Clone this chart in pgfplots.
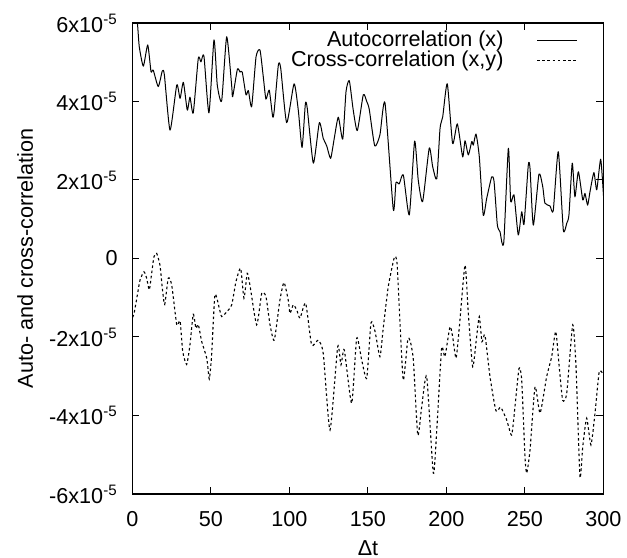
\documentclass[border=0pt]{standalone}
\usepackage{fontspec}
\setmainfont{Liberation Sans}
\usepackage{pgfplots}
\usepackage{pgfplotstable}
\pgfplotsset{compat=1.18}

% autocorrelation (x)
\pgfplotstableread{
t y
0 6.9e-5
3.1 6.0e-5
4.3 5.40e-5
6.9 4.90e-5
9.7 5.44e-5
11.8 4.76e-5
13.2 4.80e-5
16.4 4.38e-5
19.0 4.78e-5
20.3 4.68e-5
23.9 3.27e-5
28.2 4.42e-5
30.3 4.08e-5
32.4 4.49e-5
34.9 3.78e-5
36.6 4.11e-5
38.7 3.71e-5
41.9 5.10e-5
43.6 5.01e-5
45.5 5.16e-5
48.7 3.71e-5
51.9 5.57e-5
54.0 4.42e-5
56.8 4.02e-5
60.0 5.65e-5
63.2 4.39e-5
63.8 4.12e-5
66.8 4.82e-5
68.5 4.75e-5
69.9 4.75e-5
72.3 4.17e-5
73.8 4.28e-5
75.9 3.87e-5
78.7 5.14e-5
81.2 5.31e-5
83.3 4.63e-5
85.0 4.06e-5
87.1 4.29e-5
89.3 3.61e-5
90.3 3.78e-5
92.9 4.93e-5
94.4 4.85e-5
98.2 3.46e-5
102.9 4.45e-5
105.6 3.78e-5
108.0 2.83e-5
110.1 3.94e-5
111.3 3.83e-5
115.2 2.43e-5
119.0 3.46e-5
121.5 3.06e-5
123.7 2.87e-5
126.2 2.55e-5
128.5 3.06e-5
131.1 3.60e-5
133.9 3.04e-5
136.0 4.25e-5
138.1 4.53e-5
140.6 3.78e-5
143.2 3.26e-5
147.0 4.17e-5
149.2 4.00e-5
150.8 3.80e-5
154.3 2.87e-5
157.6 3.15e-5
160.8 3.97e-5
166.1 1.25e-5
167.8 1.93e-5
169.9 1.90e-5
172.5 2.13e-5
176.3 1.11e-5
179.7 2.99e-5
182.0 2.00e-5
184.8 1.45e-5
189.0 2.81e-5
191.2 2.34e-5
193.8 2.03e-5
195.9 3.32e-5
197.6 3.61e-5
200.5 4.45e-5
203.9 2.93e-5
206.9 3.43e-5
210.3 2.59e-5
211.8 3.00e-5
213.9 2.64e-5
216.1 2.98e-5
217.1 2.89e-5
218.8 3.17e-5
220.9 2.59e-5
223.4 1.11e-5
225.6 1.53e-5
228.8 2.08e-5
230.3 1.96e-5
232.4 0.85e-5
234.1 0.68e-5
235.4 0.39e-5
236.6 0.47e-5
239.4 2.81e-5
240.9 1.45e-5
243.0 1.62e-5
245.7 0.60e-5
247.9 1.19e-5
249.4 0.88e-5
252.1 2.38e-5
253.2 2.30e-5
255.3 0.85e-5
258.9 2.15e-5
261.3 1.83e-5
262.7 1.41e-5
265.9 1.34e-5
268.0 1.22e-5
271.2 2.72e-5
274.4 0.73e-5
276.6 0.90e-5
278.0 1.11e-5
280.1 2.43e-5
281.8 1.57e-5
284.0 2.21e-5
286.8 1.49e-5
288.2 1.66e-5
289.9 1.36e-5
291.4 1.70e-5
293.9 2.19e-5
295.7 1.75e-5
298.2 2.53e-5
300 1.60e-5
}\autotable

% cross-correlation (x,y)
\pgfplotstableread{
t y
0 -1.50e-5
1.0 -1.40e-5
3.1 -0.93e-5
4.8 -0.55e-5
7.3 -0.34e-5
9.0 -0.50e-5
10.7 -0.80e-5
12.2 -0.38e-5
13.7 0.05e-5
15.4 0.13e-5
17.5 -0.17e-5
19.0 -0.76e-5
20.5 -1.17e-5
22.8 -0.50e-5
25.0 -0.68e-5
28.2 -1.69e-5
30.3 -1.59e-5
32.0 -2.37e-5
34.5 -2.70e-5
36.6 -2.20e-5
38.7 -1.42e-5
40.4 -1.78e-5
41.9 -1.68e-5
44.1 -2.12e-5
47.3 -2.54e-5
48.9 -3.07e-5
50.4 -2.46e-5
52.5 -0.93e-5
55.3 -1.27e-5
56.8 -1.48e-5
60.0 -1.36e-5
63.2 -1.18e-5
65.9 -0.59e-5
68.9 -0.25e-5
71.0 -1.01e-5
73.1 -0.38e-5
74.8 -0.68e-5
79.1 -1.69e-5
82.3 -0.89e-5
85.0 -0.97e-5
87.6 -1.69e-5
90.3 -2.08e-5
93.9 -1.06e-5
96.5 -0.61e-5
99.2 -1.06e-5
100.3 -1.40e-5
102.4 -1.18e-5
104.6 -1.31e-5
106.7 -1.52e-5
110.3 -1.14e-5
114.1 -2.20e-5
118.3 -2.08e-5
121.5 -2.42e-5
125.8 -4.37e-5
130.7 -2.25e-5
132.8 -2.71e-5
134.9 -2.33e-5
139.6 -3.69e-5
142.8 -2.03e-5
146.0 -2.59e-5
149.2 -3.05e-5
151.9 -1.64e-5
154.5 -1.86e-5
157.6 -2.50e-5
159.7 -1.78e-5
162.9 -0.72e-5
166.8 0.03e-5
168.5 -0.12e-5
170.4 -1.65e-5
172.5 -3.10e-5
175.3 -2.08e-5
176.8 -2.09e-5
178.9 -2.59e-5
181.7 -4.50e-5
184.2 -3.78e-5
187.4 -3.01e-5
191.6 -5.47e-5
193.8 -4.37e-5
196.9 -2.29e-5
199.0 -2.50e-5
202.2 -1.74e-5
203.9 -1.99e-5
206.1 -2.54e-5
208.2 -1.74e-5
211.8 -0.17e-5
213.9 -1.40e-5
216.7 -2.76e-5
219.2 -1.99e-5
220.9 -1.48e-5
222.6 -2.12e-5
224.5 -1.95e-5
227.7 -3.01e-5
231.5 -3.88e-5
234.5 -3.79e-5
238.3 -4.11e-5
241.5 -4.50e-5
243.6 -3.78e-5
246.2 -2.80e-5
247.9 -3.10e-5
250.0 -5.05e-5
251.1 -5.47e-5
253.2 -4.88e-5
256.4 -3.27e-5
259.6 -3.94e-5
263.8 -3.01e-5
267.0 -2.50e-5
269.6 -1.86e-5
271.8 -2.76e-5
274.0 -3.61e-5
276.6 -3.43e-5
280.4 -1.69e-5
282.5 -2.76e-5
285.0 -5.56e-5
286.8 -4.79e-5
289.3 -4.07e-5
292.0 -4.75e-5
294.6 -3.94e-5
297.3 -2.88e-5
300 -2.97e-5
}\crosstable

\begin{document}
\begin{tikzpicture}[font=\fontsize{10.8}{13}\selectfont]
\begin{axis}[
    name=ax,
    scale only axis,
    width=235.5pt, height=235.5pt,
    xmin=0, xmax=300, ymin=-6e-5, ymax=6e-5,
    xtick={0,50,...,300},
    ytick={-6e-5,-4e-5,-2e-5,0,2e-5,4e-5,6e-5},
    yticklabels={-6x10\textsuperscript{-5},-4x10\textsuperscript{-5},-2x10\textsuperscript{-5},0,2x10\textsuperscript{-5},4x10\textsuperscript{-5},6x10\textsuperscript{-5}},
    scaled y ticks=false,
    /pgf/number format/assume math mode=true,
    tick align=inside,
    major tick length=3.5pt,
    minor tick num=0,
    axis line style={line width=0.6pt},
    every tick/.style={black, line width=0.5pt},
    xticklabel style={inner sep=0pt, yshift=-8.3pt},
    yticklabel style={inner sep=0pt, xshift=-7.2pt},
    xlabel={Δt},
    ylabel={Auto- and cross-correlation},
    every axis x label/.style={at={(axis description cs:0.5,0)}, anchor=north, inner sep=0pt, yshift=-23.2pt},
    every axis y label/.style={at={([xshift=-49.8pt]axis description cs:0,0.5)}, rotate=90, anchor=base, inner sep=0pt},
    legend plot pos=right,
    legend cell align=right,
    legend image code/.code={\path (0pt,0pt); \draw[#1] (16.5pt,0pt) -- (36.5pt,0pt);},
    legend style={at={(rel axis cs:1,1)}, anchor=north east, xshift=-12.75pt, yshift=-3.5pt,
        draw=none, fill=none, inner sep=0pt, row sep=0pt,
        nodes={inner sep=0pt, text height=7.9pt, text depth=2.2pt}},
]
\addplot[black, line width=0.5pt, line join=round, smooth, tension=0.35] table[x=t, y=y] {\autotable};
\addlegendentry{Autocorrelation (x)}
\addplot[black, line width=0.55pt, smooth, tension=0.35, dash pattern=on 1.3pt off 1.3pt] table[x=t, y=y] {\crosstable};
\addlegendentry{Cross-correlation (x,y)}
\end{axis}
\pgfresetboundingbox
\path ([shift={(-66.25pt,-32pt)}]ax.south west) rectangle ([shift={(11.75pt,11.5pt)}]ax.north east);
\end{tikzpicture}
\end{document}
